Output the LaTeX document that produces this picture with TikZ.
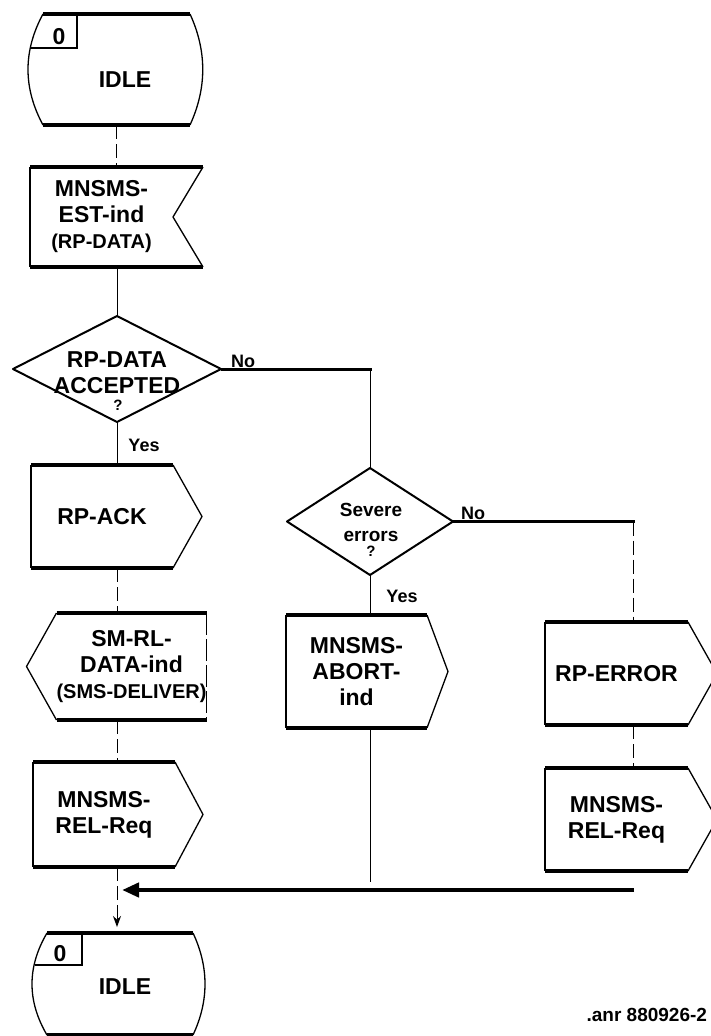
\documentclass[tikz,border=0pt]{standalone}
\usepackage{fontspec}
\setmainfont{Liberation Sans}
\usetikzlibrary{shapes.geometric,arrows.meta,calc}
\begin{document}
\begin{tikzpicture}[x=1pt,y=-1pt,
  every node/.style={outer sep=0pt, inner sep=0pt},
  lbl/.style={font=\bfseries\fontsize{23}{26}\selectfont, align=center},
  sml/.style={font=\bfseries\fontsize{19}{25}\selectfont, align=center},
  yn/.style={font=\bfseries\fontsize{18}{20}\selectfont},
  box/.style={lbl, minimum width=143pt, minimum height=103pt},
  stnode/.style={minimum width=147pt, minimum height=111pt},
  dia/.style={diamond, draw, line width=2pt, line join=round},
  olin/.style={line width=1.3pt, line join=round},
  hlin/.style={line width=3.2pt},
  conn/.style={line width=1pt},
  dconn/.style={line width=1pt, dash pattern=on 14pt off 5pt},
  branch/.style={line width=3pt},
]
\useasboundingbox (0,0) rectangle (710,1036);

% ---------- nodes ----------
\node[stnode] (idle0) at (116.5,69.5) {};
\node[lbl] (idle0txt) at (125,80) {IDLE};
\node[lbl] (idle0num) at (59,36.5) {0};

\node[box, minimum height=100pt] (est) at (101.5,217)
  {MNSMS-\\EST-ind\\{\fontsize{20}{24}\selectfont (RP-DATA)}};

\node[dia, minimum width=208pt, minimum height=106pt] (d1) at (117,369) {};
\node[lbl] (d1t) at (117,373) {RP-DATA\\ACCEPTED};
\node[font=\bfseries\fontsize{15}{16}\selectfont] (d1q) at (118,405) {?};

\node[box, minimum width=142pt] (ack) at (102,516.5) {RP-ACK};

\node[box, minimum height=107pt] (smrl) at (131.5,666.5)
  {SM-RL-\\DATA-ind\\{\fontsize{20}{24}\selectfont (SMS-DELIVER)}};

\node[box, minimum width=142pt, minimum height=105pt] (relL) at (104,814.5) {MNSMS-\\REL-Req};

\node[stnode, minimum width=146pt, minimum height=102pt] (idle1) at (120,984) {};
\node[lbl] (idle1txt) at (125,987) {IDLE};
\node[lbl] (idle1num) at (60,953.5) {0};

\node[dia, minimum width=166pt, minimum height=107pt] (d2) at (370,521.5) {};
\node[sml] (d2t) at (371,522) {Severe\\errors};
\node[font=\bfseries\fontsize{15}{16}\selectfont] (d2q) at (371,551) {?};

\node[box, minimum width=141pt, minimum height=113pt] (abort) at (356.5,671.5) {MNSMS-\\ABORT-\\ind};

\node[box] (rperr) at (616.5,673.5) {RP-ERROR};
\node[box] (relR) at (616.5,819.5) {MNSMS-\\REL-Req};

\node[yn] (no1) at (243,361) {No};
\node[yn] (yes1) at (144,445) {Yes};
\node[yn] (no2) at (473,513) {No};
\node[yn] (yes2) at (402,596) {Yes};

\node[font=\bfseries\fontsize{19}{20}\selectfont, anchor=east] (ftr) at (707,1015) {.anr 880926-2};

% ---------- state outlines ----------
\draw[olin] (idle0.north west) .. controls ([xshift=-20pt,yshift=-37pt]idle0.north west) and ([xshift=-20pt,yshift=37pt]idle0.south west) .. (idle0.south west);
\draw[olin] (idle0.north east) .. controls ([xshift=17pt,yshift=-37pt]idle0.north east) and ([xshift=17pt,yshift=37pt]idle0.south east) .. (idle0.south east);
\draw[hlin] (idle0.north west) -- (idle0.north east);
\draw[hlin] (idle0.south west) -- (idle0.south east);
\draw[line width=2.6pt] ([xshift=-13pt,yshift=-34pt]idle0.north west) -- ([xshift=34pt,yshift=-34pt]idle0.north west) -- ([xshift=34pt]idle0.north west);

\draw[olin] (idle1.north west) .. controls ([xshift=-20pt,yshift=-34pt]idle1.north west) and ([xshift=-20pt,yshift=34pt]idle1.south west) .. (idle1.south west);
\draw[olin] (idle1.north east) .. controls ([xshift=16pt,yshift=-34pt]idle1.north east) and ([xshift=16pt,yshift=34pt]idle1.south east) .. (idle1.south east);
\draw[hlin] (idle1.north west) -- (idle1.north east);
\draw[hlin] (idle1.south west) -- (idle1.south east);
\draw[line width=2.6pt] ([xshift=-12pt,yshift=-32pt]idle1.north west) -- ([xshift=35pt,yshift=-32pt]idle1.north west) -- ([xshift=35pt]idle1.north west);

% ---------- input (notched) ----------
\draw[olin] (est.north west) -- (est.south west);
\draw[olin] ([xshift=30pt]est.north east) -- (est.east) -- ([xshift=30pt]est.south east);
\draw[hlin] (est.north west) -- ([xshift=30pt]est.north east);
\draw[hlin] (est.south west) -- ([xshift=30pt]est.south east);

% ---------- left-pointing signal ----------
\draw[olin] (smrl.north west) -- ([xshift=-30pt]smrl.west) -- (smrl.south west);
\draw[olin, dash pattern=on 22pt off 4pt] (smrl.north east) -- (smrl.south east);
\draw[hlin] (smrl.north west) -- (smrl.north east);
\draw[hlin] (smrl.south west) -- (smrl.south east);

% ---------- outputs ----------
\foreach \n/\d in {ack/29pt,relL/28pt,abort/21pt,rperr/29pt,relR/29pt}{
  \draw[olin] (\n.north west) -- (\n.south west);
  \draw[olin] (\n.north east) -- ([xshift=\d]\n.east) -- (\n.south east);
  \draw[hlin] (\n.north west) -- (\n.north east);
  \draw[hlin] (\n.south west) -- (\n.south east);
}

% ---------- connectors ----------
\draw[dconn] (idle0.south) -- (idle0.south |- est.north);
\draw[conn] (d1.north |- est.south) -- (d1.north);
\draw[conn] (d1.south) -- (d1.south |- ack.north);
\draw[dconn] (d1.south |- ack.south) -- (d1.south |- smrl.north);
\draw[dconn] (d1.south |- smrl.south) -- (d1.south |- relL.north);
\draw[dconn, -{Stealth[length=11pt,width=8pt]}, shorten >=6pt] (d1.south |- relL.south) -- (d1.south |- idle1.north);

\coordinate (c1) at (d2.north |- d1.east);
\draw[branch] (d1.east) -- ([xshift=1.5pt]c1);
\draw[conn] (c1) -- (d2.north);

\coordinate (c2) at ($(d2.east)+(180,0)$);
\draw[branch] (d2.east) -- ([xshift=1.5pt]c2);
\draw[dconn] (c2) -- (c2 |- rperr.north);
\draw[dconn] (c2 |- rperr.south) -- (c2 |- relR.north);

\draw[conn] (d2.south) -- (d2.south |- abort.north);
\coordinate (m1) at (370,882);
\draw[conn] (d2.south |- abort.south) -- (m1);

\coordinate (r1) at (634,890);
\coordinate (j1) at (d1.south |- r1);
\draw[line width=4.5pt, -{Triangle[length=17pt,width=14pt]}, shorten >=5pt] (r1) -- (j1);

\end{tikzpicture}
\end{document}
